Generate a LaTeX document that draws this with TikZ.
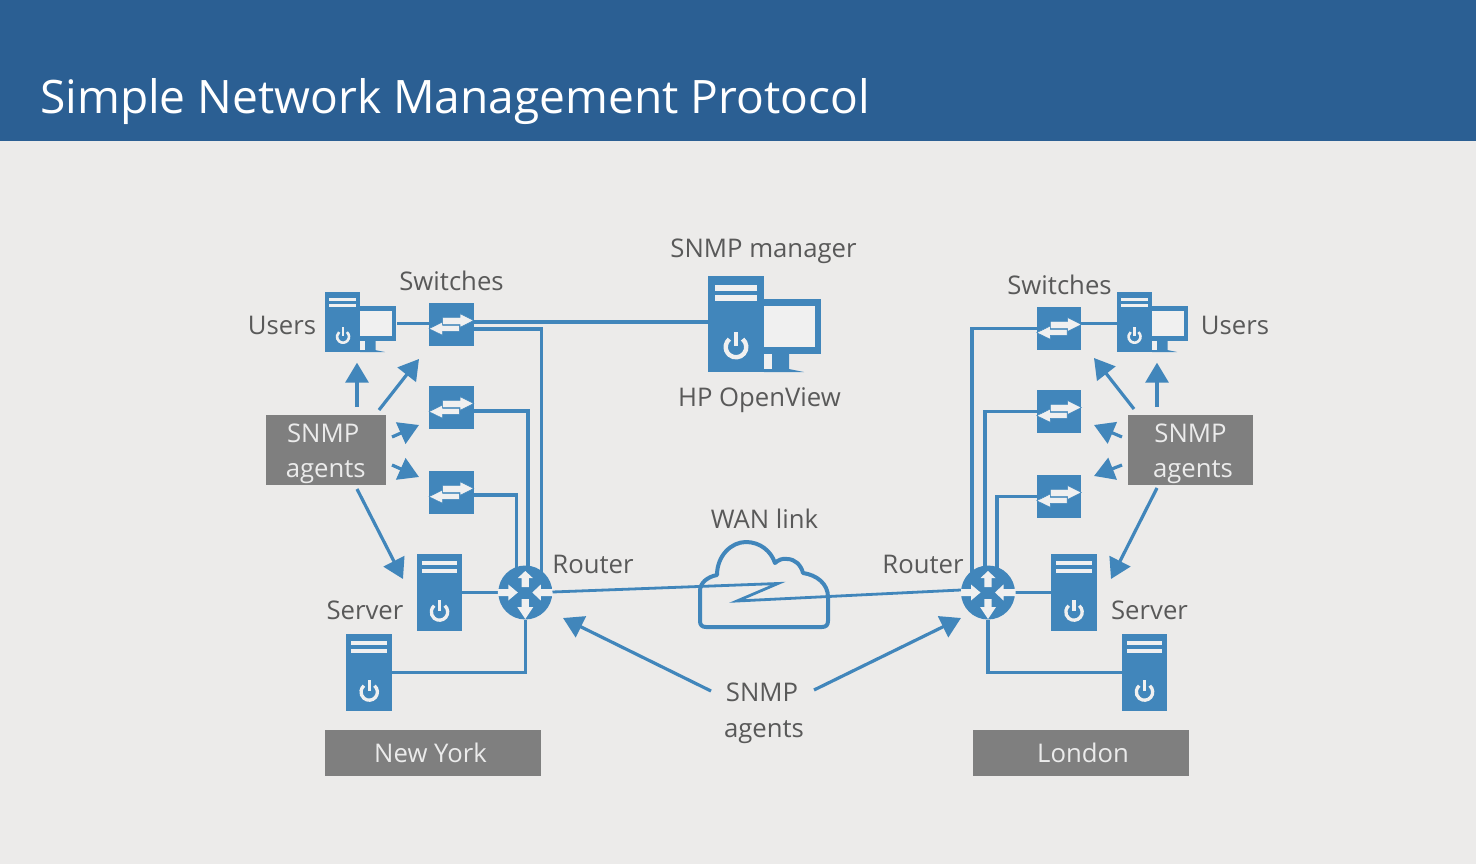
\documentclass[tikz,border=0pt]{standalone}
\usepackage{fontspec}
\setmainfont{Open Sans}
\usetikzlibrary{arrows.meta,backgrounds}
\definecolor{pagebg}{HTML}{ECEBEA}
\definecolor{header}{HTML}{2B5F93}
\definecolor{iconblue}{HTML}{4186BB}
\definecolor{lblgray}{HTML}{595959}
\definecolor{boxgray}{HTML}{7F7F7F}
\definecolor{iconwhite}{HTML}{F0F0F0}
\definecolor{boxtext}{HTML}{EBEBEB}
\newcommand\lineup{\rule{0pt}{26.3pt}}
\tikzset{
  x=1pt,y=-1pt,
  lbl/.style={anchor=base,text=lblgray,font=\fontsize{25.7}{30}\selectfont,inner sep=0pt},
  agentbox/.style={fill=boxgray,text=boxtext,font=\fontsize{25.7}{35.5}\selectfont,align=center,inner sep=0pt,minimum height=70pt},
  citybox/.style={fill=boxgray,text=boxtext,font=\fontsize{25.7}{30}\selectfont,inner sep=0pt,minimum width=216pt,minimum height=46pt},
  link/.style={draw=iconblue,line width=3.3pt,line join=miter},
  agentarrow/.style={draw=iconblue,line width=3.2pt,-{Triangle[length=20pt,width=23pt]}},
  switchbox/.style={fill=iconblue,inner sep=0pt,minimum width=44.5pt,minimum height=43pt},
  routerbox/.style={circle,fill=iconblue,inner sep=0pt,minimum size=54pt},
  serverbox/.style={fill=iconblue,inner sep=0pt,minimum width=45.5pt,minimum height=77pt},
  iconframe/.style={inner sep=0pt,anchor=north west},
  glyph/.style={fill=iconwhite,draw=none},
  arrowglyph/.style={fill=iconwhite,draw=iconblue,line width=0.5pt}
}
% power symbol: centre, ring radius, stroke
\newcommand\powerglyph[3]{%
  \draw[iconwhite,line width=#3pt] ([shift={(-50:#2)}]#1) arc[start angle=-50,end angle=230,radius=#2];
  \draw[iconblue,line width=#3*1.9pt] ([yshift=1pt]#1) -- ([yshift=#2*1.7pt]#1);
  \draw[iconwhite,line width=#3pt] ([yshift=1pt]#1) -- ([yshift=#2*1.4pt+1pt]#1);}
% workstation drawn in manager units from top-left corner
\newcommand\pcglyph[2]{%
  \begin{scope}[shift={(#1)},scale=#2]
    \fill[iconblue] (0,0) rectangle (56,96);
    \fill[iconblue] (56,23) rectangle (113,78);
    \fill[iconwhite] (56,30) rectangle (107,71);
    \fill[glyph] (7,9) rectangle (49,15);
    \fill[glyph] (7,19) rectangle (49,24.5);
    \fill[iconblue] (56,78) -- (81,78) -- (81,93) -- (96,96) -- (56,96) -- cycle;
    \fill[iconwhite] (56,78) rectangle (64,93);
  \end{scope}}
\newcommand\serverglyph[1]{%
  \begin{scope}[shift={(#1.north west)}]
    \fill[glyph] (5,7) rectangle (40.5,11.5);
    \fill[glyph] (5,15) rectangle (40.5,19.5);
  \end{scope}
  \coordinate (tmppow) at ([yshift=-19.5pt]#1.center);
  \powerglyph{tmppow}{8.2}{3.3}}
\newcommand\switchglyph[1]{%
  \begin{scope}[shift={(#1.center)}]
    \path[arrowglyph] (-22.3,4.2) -- (-8.6,-2.5) -- (-8.6,0.8) -- (8,0.8) -- (8,6.8) -- (-8.6,6.8) -- (-8.6,10.8) -- cycle;
    \path[arrowglyph] (22.4,-4) -- (8.7,-10.8) -- (8.7,-7.2) -- (-8.6,-7.2) -- (-8.6,0.2) -- (8.7,0.2) -- (8.7,2.8) -- cycle;
  \end{scope}}
\newcommand\routerglyph[1]{%
  \begin{scope}[shift={(#1.center)}]
    \fill[glyph] (0,-21.5) -- (7.5,-14.5) -- (3.6,-14.5) -- (3.6,-5.5) -- (-3.6,-5.5) -- (-3.6,-14.5) -- (-7.5,-14.5) -- cycle;
    \fill[glyph] (0,26.5) -- (8,14.5) -- (3.6,14.5) -- (3.6,6.5) -- (-3.6,6.5) -- (-3.6,14.5) -- (-8,14.5) -- cycle;
    \fill[glyph] (-7.5,0) -- (-17,-8) -- (-17,-3.5) -- (-27.5,-3.5) -- (-27.5,3.5) -- (-17,3.5) -- (-17,8) -- cycle;
    \fill[glyph] (7,0) -- (15.5,-8) -- (15.5,-3.5) -- (27.5,-3.5) -- (27.5,3.5) -- (15.5,3.5) -- (15.5,8) -- cycle;
  \end{scope}}
\begin{document}
\begin{tikzpicture}
\useasboundingbox (0,0) rectangle (1476,864);
% header and title
\node[iconframe,minimum width=1476pt,minimum height=140.5pt,fill=header] (headerbar) at (0,0) {};
\node[anchor=base west,inner sep=0pt,text=white,font=\fontsize{46.1}{55}\selectfont] (title) at (40,113.5) {Simple Network Management Protocol};

% device nodes
\node[iconframe,minimum width=113pt,minimum height=96pt] (man) at (708,276) {};
\node[iconframe,minimum width=72pt,minimum height=60pt] (pcL) at (325,292) {};
\node[iconframe,minimum width=71pt,minimum height=60pt] (pcR) at (1117,292) {};
\node[switchbox] (swL1) at (451.3,324.5) {};
\node[switchbox] (swL2) at (451.3,407.5) {};
\node[switchbox] (swL3) at (451.3,492.5) {};
\node[switchbox] (swR1) at (1059,328.5) {};
\node[switchbox] (swR2) at (1059,411.5) {};
\node[switchbox] (swR3) at (1059,496.5) {};
\node[routerbox] (rtL) at (525.3,592.5) {};
\node[routerbox] (rtR) at (988,592.5) {};
\node[serverbox] (srvL1) at (439.5,592.5) {};
\node[serverbox] (srvL2) at (369.2,672.5) {};
\node[serverbox] (srvR1) at (1074,592.5) {};
\node[serverbox] (srvR2) at (1144.5,672.5) {};

% glyphs
\pcglyph{man.north west}{1}
\powerglyph{736,347}{10.3}{4.4}
\pcglyph{pcL.north west}{0.625}
\powerglyph{343,336.7}{6}{2.6}
\pcglyph{pcR.north west}{0.625}
\powerglyph{1134.5,336.7}{6}{2.6}
\switchglyph{swL1}\switchglyph{swL2}\switchglyph{swL3}
\switchglyph{swR1}\switchglyph{swR2}\switchglyph{swR3}
\routerglyph{rtL}\routerglyph{rtR}
\serverglyph{srvL1}\serverglyph{srvL2}\serverglyph{srvR1}\serverglyph{srvR2}

% label boxes
\node[agentbox,minimum width=120pt] (agL) at (325.7,450) {\lineup SNMP\kern5pt\\agents};
\node[agentbox,minimum width=125pt] (agR) at (1190.5,450) {\lineup SNMP\\\hspace*{5pt}agents};
\node[citybox] (ny) at (433,753) {New York\kern5pt};
\node[citybox] (lon) at (1080.5,753) {\kern5pt London};
\node[text=lblgray,font=\fontsize{25.7}{35.5}\selectfont,align=center,inner sep=0pt] (agC) at (764,713.5) {SNMP\kern4pt\\agents};

% text labels
\node[lbl] (tUsersL) at (282,334) {Users};
\node[lbl] (tSwL) at (451.5,290.5) {Switches};
\node[lbl] (tMan) at (763.5,257) {SNMP manager};
\node[lbl] (tHP) at (759.5,406) {HP OpenView};
\node[lbl] (tWan) at (764.5,528) {WAN link};
\node[lbl] (tRtL) at (593,573) {Router};
\node[lbl] (tRtR) at (923,573) {Router};
\node[lbl] (tSrvL) at (365,619.5) {Server};
\node[lbl] (tSrvR) at (1149.5,619.5) {Server};
\node[lbl] (tSwR) at (1059.5,294) {Switches};
\node[lbl] (tUsersR) at (1235,334) {Users};

% named connector ends
\coordinate (p0) at ([yshift=-1.3pt]pcL.east);
\coordinate (r0) at ([yshift=-1pt]pcR.west);
\coordinate (p1) at ([yshift=2.5pt]swL1.east);
\coordinate (p2) at ([yshift=-4.5pt]swL1.east);
\coordinate (p3) at ([yshift=-3.5pt]swL2.east);
\coordinate (p4) at ([yshift=-2.5pt]swL3.east);
\coordinate (q2) at (swR1.west);
\coordinate (q3) at (swR2.west);
\coordinate (q4) at (swR3.west);
\coordinate (boltA) at (778,583.5);
\coordinate (boltB) at (737,601);
\coordinate (wanL) at ([yshift=0.5pt]rtL.east);
\coordinate (wanR) at ([yshift=2.5pt]rtR.west);

\begin{scope}[on background layer]
  \fill[pagebg] (0,0) rectangle (1476,864);
  \draw[link] (p0) -- (p0 -| swL1.west);
  \draw[link] (p1) -- (p1 -| man.west);
  \draw[link] (p2) -| ([xshift=16pt]rtL.center);
  \draw[link] (p3) -| ([xshift=2.7pt]rtL.center);
  \draw[link] (p4) -| ([xshift=-8.5pt]rtL.center);
  \draw[link] (srvL1.east) -- (rtL.west);
  \draw[link] (srvL2.east) -| (rtL.south);
  \draw[link] (r0 -| swR1.east) -- (r0);
  \draw[link] (q2) -| ([xshift=-16pt]rtR.center);
  \draw[link] (q3) -| ([xshift=-3pt]rtR.center);
  \draw[link] (q4) -| ([xshift=9pt]rtR.center);
  \draw[link] (rtR.east) -- (srvR1.west);
  \draw[link] (srvR2.west) -| (rtR.south);
\end{scope}

% WAN link and cloud
\draw[link,line width=2.8pt] (wanL) -- (boltA) -- (boltB) -- (wanR);
\draw[draw=iconblue,line width=4pt,line join=round]
  (706,627) .. controls (702,627) and (700,625) .. (700,621)
  -- (700,591) .. controls (700,583) and (707,577) .. (717,575)
  .. controls (717,556) and (731,542) .. (746,542)
  .. controls (760,542) and (771,551) .. (775,563)
  .. controls (778,560) and (783,558) .. (787,559)
  .. controls (795,559) and (801,565) .. (803,573)
  .. controls (817,575) and (828,584) .. (828,597)
  -- (828,621) .. controls (828,625) and (826,627) .. (822,627) -- cycle;

% agent arrows
\coordinate (aS1) at (357,407); \coordinate (aT1) at (357,362.7);
\coordinate (aS2) at (379,410); \coordinate (aT2) at (419,359);
\coordinate (aS3) at (392,437); \coordinate (aT3) at (419,425);
\coordinate (aS4) at (392,465); \coordinate (aT4) at (419,477);
\coordinate (aS5) at (357,489); \coordinate (aT5) at (403,579);
\coordinate (bS1) at (1157,407); \coordinate (bT1) at (1157,362.7);
\coordinate (bS2) at (1134,409); \coordinate (bT2) at (1094,358);
\coordinate (bS3) at (1122,437); \coordinate (bT3) at (1094,425);
\coordinate (bS4) at (1122,465); \coordinate (bT4) at (1094,476);
\coordinate (bS5) at (1157,488); \coordinate (bT5) at (1111,579);
\coordinate (cS1) at (711,691); \coordinate (cT1) at (563,618);
\coordinate (cS2) at (814,690); \coordinate (cT2) at (961,618);
\foreach \s/\t in {aS1/aT1,aS2/aT2,aS3/aT3,aS4/aT4,aS5/aT5,bS1/bT1,bS2/bT2,bS3/bT3,bS4/bT4,bS5/bT5,cS1/cT1,cS2/cT2}
  \draw[agentarrow] (\s) -- (\t);
\end{tikzpicture}
\end{document}
